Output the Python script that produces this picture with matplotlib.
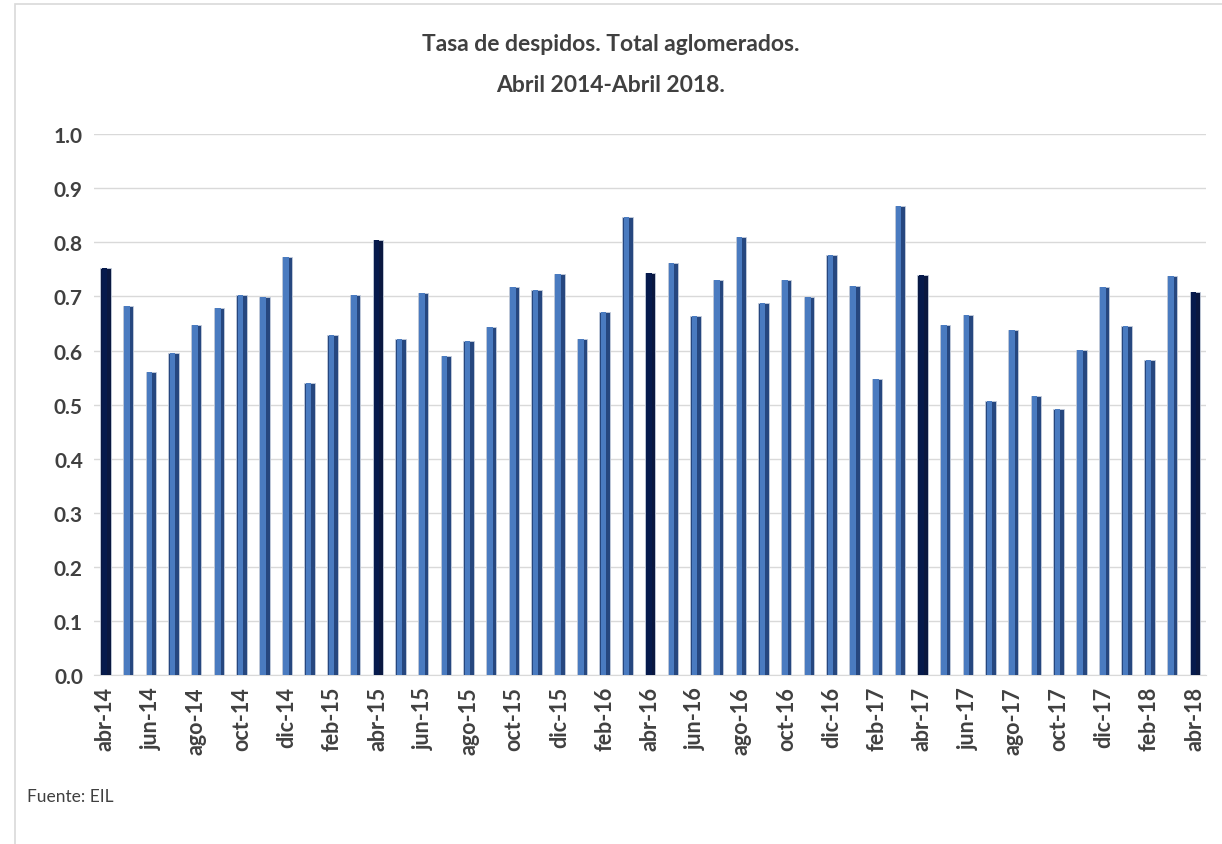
import matplotlib
matplotlib.use("Agg")
import matplotlib.pyplot as plt
from matplotlib.patches import Rectangle

months = ["abr", "may", "jun", "jul", "ago", "sep", "oct", "nov", "dic", "ene", "feb", "mar"]
categories = []
yy = 14
for i in range(49):
    m = months[i % 12]
    if m == "ene":
        yy += 1
    categories.append(f"{m}-{yy}")

values = [0.753, 0.682, 0.560, 0.595, 0.647, 0.678, 0.703, 0.699, 0.773, 0.540, 0.628, 0.703,
          0.804, 0.622, 0.706, 0.589, 0.617, 0.643, 0.717, 0.712, 0.742, 0.622, 0.672, 0.847,
          0.744, 0.762, 0.664, 0.730, 0.809, 0.688, 0.730, 0.699, 0.777, 0.720, 0.547, 0.868,
          0.740, 0.648, 0.665, 0.506, 0.638, 0.516, 0.492, 0.601, 0.718, 0.646, 0.582, 0.738,
          0.709]
highlight = [c.startswith("abr") for c in categories]

yticks = [0.0, 0.1, 0.2, 0.3, 0.4, 0.5, 0.6, 0.7, 0.8, 0.9, 1.0]

plt.rcParams['font.family'] = ['Lato', 'DejaVu Sans']

fig = plt.figure(figsize=(12.22, 8.45), dpi=100)
ax = fig.add_axes([0.077, 0.2, 0.910, 0.640])

x = list(range(len(values)))
base_col = ["#0A1840" if h else "#26477F" for h in highlight]
mid_col = ["#061A4C" if h else "#4A7BC0" for h in highlight]
ax.bar(x, values, width=0.46, color=base_col, edgecolor="#C5CEDC", linewidth=0.6, zorder=3)
ax.bar([xi - 0.05 for xi in x], values, width=0.24, color=mid_col, linewidth=0, zorder=4)

ax.set_xlim(-0.5, len(values) - 0.5)
ax.set_ylim(0, 1.0)
ax.set_yticks(yticks)
ax.set_yticklabels([f"{v:.1f}" for v in yticks], fontsize=15, fontweight="bold", color="#404040")
ax.set_xticks(x[::2])
ax.set_xticklabels(categories[::2], rotation=90, fontsize=15.5, fontweight="bold", color="#404040")
ax.tick_params(axis="both", length=0, pad=8)
ax.grid(axis="y", color="#D9D9D9", linewidth=1, zorder=0)
for s in ["top", "right", "left"]:
    ax.spines[s].set_visible(False)
ax.spines["bottom"].set_color("#D9D9D9")

fig.text(0.5, 0.947, "Tasa de despidos. Total aglomerados.", ha="center", va="center",
         fontsize=16.5, fontweight="bold", color="#404040")
fig.text(0.5, 0.899, "Abril 2014-Abril 2018.", ha="center", va="center",
         fontsize=16.5, fontweight="bold", color="#404040")
fig.text(0.022, 0.057, "Fuente: EIL", ha="left", va="center", fontsize=12.5, color="#404040")

fig.patches.append(Rectangle((0.012, -0.01), 1.0, 1.004, transform=fig.transFigure,
                             fill=False, edgecolor="#D9D9D9", linewidth=1.2))

fig.savefig("out.png", dpi=100)
